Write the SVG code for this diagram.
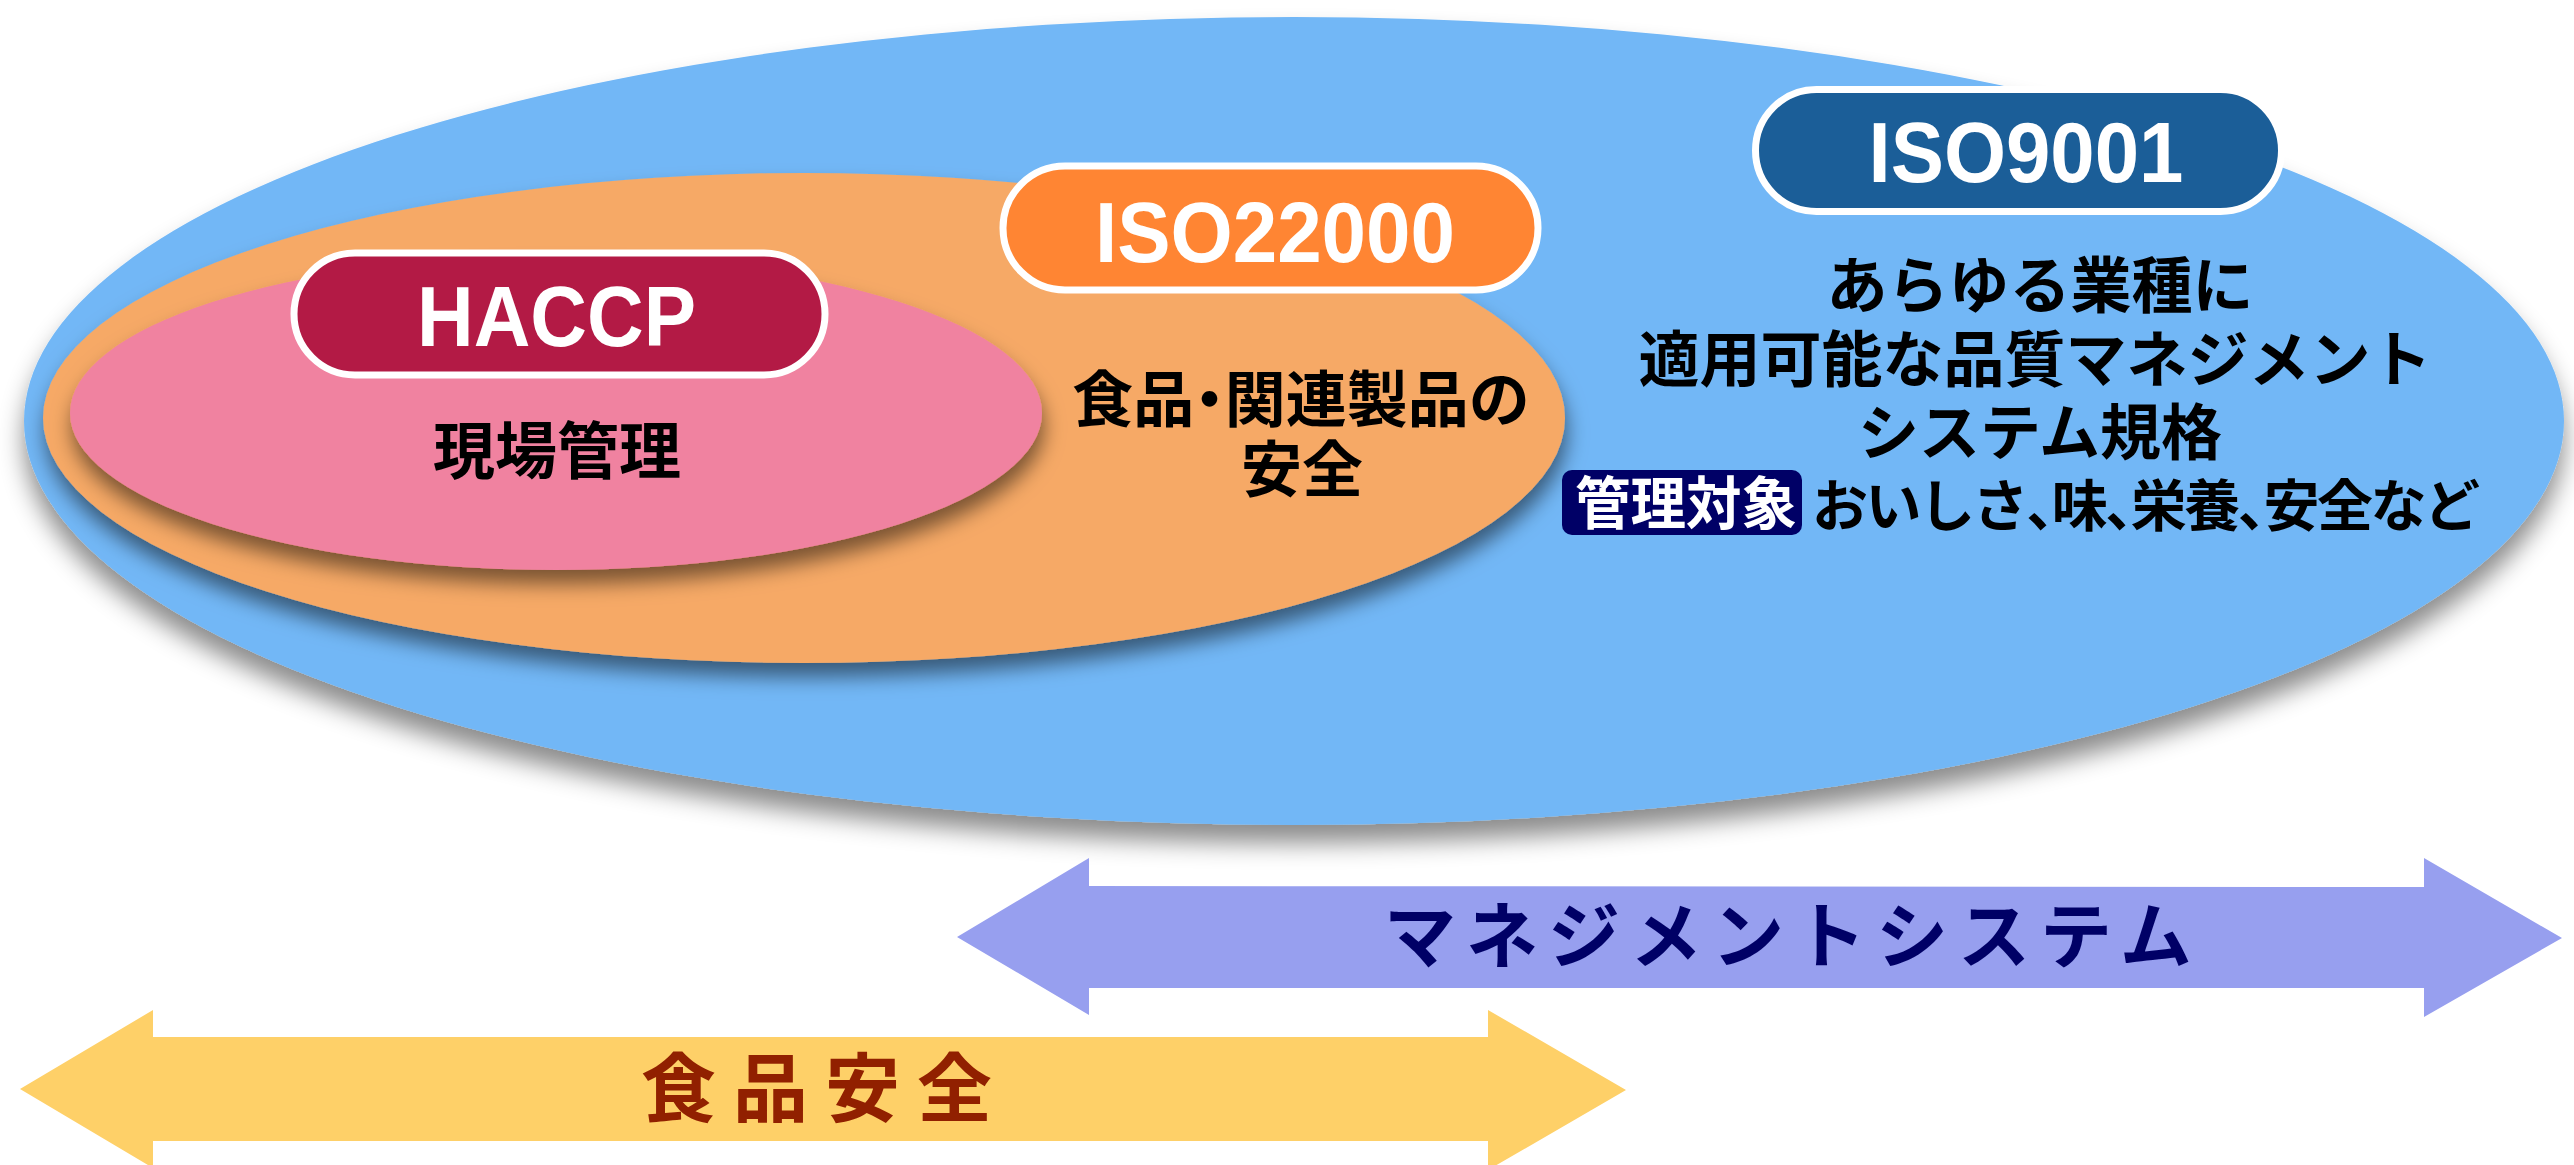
<svg xmlns="http://www.w3.org/2000/svg" width="2574" height="1165" viewBox="0 0 2574 1165">
  <defs>
    <filter id="shBig" x="-10%" y="-10%" width="120%" height="130%">
      <feDropShadow dx="0" dy="18" stdDeviation="12" flood-color="#000" flood-opacity="0.45"/>
    </filter>
    <filter id="shMid" x="-10%" y="-10%" width="120%" height="130%">
      <feDropShadow dx="2" dy="14" stdDeviation="10" flood-color="#000" flood-opacity="0.5"/>
    </filter>
    <style>
      .lbl { stroke: #ffffff; stroke-width: 7; }
      .lbltxt { font-family: "Liberation Sans", Arial, sans-serif; font-weight: bold; font-size: 86px; fill: #ffffff; text-anchor: middle; }
      .jp { font-family: "Noto Sans CJK JP", "Noto Sans", sans-serif; font-weight: bold; fill: #000000; }
      .halt { font-feature-settings: "halt"; }
    </style>
  </defs>
  <rect width="2574" height="1165" fill="#ffffff"/>

  <g id="node-iso9001">
    <ellipse cx="1294" cy="421" rx="1270" ry="404" fill="#72B7F6" filter="url(#shBig)"/>
  </g>

  <g id="node-iso22000">
    <ellipse cx="804" cy="418" rx="761" ry="245" fill="#F6A966" filter="url(#shMid)"/>
  </g>

  <g id="node-haccp">
    <ellipse cx="556" cy="413" rx="486" ry="157" fill="#F082A0" filter="url(#shMid)"/>
    <rect class="lbl" x="294" y="253" width="531" height="122" rx="61" fill="#B31A45"/>
    <text class="lbltxt" x="556.5" y="346" textLength="279" lengthAdjust="spacingAndGlyphs">HACCP</text>
    <text class="jp" x="557" y="474" font-size="62" text-anchor="middle">現場管理</text>
  </g>

  <g id="label-iso22000">
    <rect class="lbl" x="1003" y="166" width="535" height="124" rx="62" fill="#FF8533"/>
    <text class="lbltxt" x="1275" y="261.5" textLength="360" lengthAdjust="spacingAndGlyphs">ISO22000</text>
    <text class="jp halt" x="1301" y="422" font-size="61" text-anchor="middle">食品・関連製品の</text>
    <text class="jp" x="1302" y="492" font-size="61" text-anchor="middle">安全</text>
  </g>

  <g id="label-iso9001">
    <rect class="lbl" x="1755.5" y="89.5" width="526" height="122" rx="61" fill="#1B5E98"/>
    <text class="lbltxt" x="2026" y="182" textLength="315" lengthAdjust="spacingAndGlyphs">ISO9001</text>
    <text class="jp" x="2040" y="308" font-size="61" text-anchor="middle">あらゆる業種に</text>
    <text class="jp" x="2035" y="382" font-size="61" text-anchor="middle">適用可能な品質マネジメント</text>
    <text class="jp" x="2040" y="455" font-size="61" text-anchor="middle">システム規格</text>
    <rect x="1562" y="470" width="240" height="65" rx="10" fill="#000066"/>
    <text class="jp" x="1575" y="524" font-size="57" style="fill:#ffffff" textLength="222" lengthAdjust="spacingAndGlyphs">管理対象</text>
    <text class="jp halt" x="1812" y="526" font-size="56" textLength="668" lengthAdjust="spacing">おいしさ、味、栄養、安全など</text>
  </g>

  <g id="connectors">
    <g id="arrow-management">
      <polygon points="957,937 1089,858 1089,886 2424,887 2424,858 2562,938 2424,1017 2424,988 1089,988 1089,1015" fill="#979FEF"/>
      <text x="1384" y="962" font-family="Noto Sans CJK JP, sans-serif" font-weight="bold" font-size="72" letter-spacing="10" fill="#000066">マネジメントシステム</text>
    </g>
    <g id="arrow-food">
      <polygon points="20,1089 153,1010 153,1037 1488,1037 1488,1010 1626,1090 1488,1170 1488,1141 153,1141 153,1168" fill="#FED068"/>
      <text x="641" y="1116" font-family="Noto Sans CJK JP, sans-serif" font-weight="bold" font-size="75" letter-spacing="17" fill="#912000">食品安全</text>
    </g>
  </g>
</svg>
